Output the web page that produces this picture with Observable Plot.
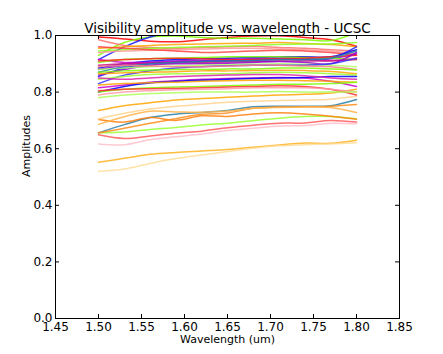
<!DOCTYPE html>
<html>
<head>
<meta charset="utf-8">
<script src="https://cdn.jsdelivr.net/npm/d3@7"></script>
<script src="https://cdn.jsdelivr.net/npm/@observablehq/plot@0.6"></script>
<style>
  html, body { margin: 0; padding: 0; background: #fff; }
  #chart { width: 443px; height: 354px; }
</style>
</head>
<body>
<div id="chart"></div>
<script>
const titleText = "Visibility amplitude vs. wavelength - UCSC";
const xLabel = "Wavelength (um)";
const yLabel = "Amplitudes";
const xTicks = [1.45, 1.50, 1.55, 1.60, 1.65, 1.70, 1.75, 1.80, 1.85];
const yTicks = [0.0, 0.2, 0.4, 0.6, 0.8, 1.0];
const wavelengths = [1.50, 1.53, 1.56, 1.59, 1.62, 1.65, 1.68, 1.71, 1.74, 1.77, 1.80];

const lineColors = [
  "#ffb020", "#ffdd99", "#ffc0cb", "#ff5a5a", "#99ff33", "#2a80a8", "#ff7f0e", "#ff8c1a",
  "#ffb347", "#ffa500", "#ffd28c",
  "#ff0000", "#7cfc00", "#1a1aff", "#ff7070", "#ffa500", "#88ff22", "#ff9999", "#ff4040",
  "#0000ff", "#8a00e0", "#d000d0", "#2020ff", "#7cfc00", "#ff2020", "#cc1080", "#9900cc",
  "#aaff66", "#2a80a8", "#3030ff", "#ff8080", "#7cfc00", "#ffa500", "#99ff33", "#cc00cc",
  "#0000ff", "#ffa500", "#7cfc00", "#ff3030", "#ff99aa", "#dd22aa", "#aaff55"
];

const lineValues = [
  [0.552, 0.566, 0.580, 0.587, 0.592, 0.597, 0.605, 0.613, 0.620, 0.619, 0.630],
  [0.520, 0.528, 0.548, 0.565, 0.578, 0.590, 0.602, 0.610, 0.614, 0.617, 0.621],
  [0.617, 0.614, 0.632, 0.642, 0.652, 0.664, 0.672, 0.680, 0.682, 0.690, 0.688],
  [0.649, 0.636, 0.645, 0.655, 0.662, 0.674, 0.683, 0.690, 0.691, 0.700, 0.694],
  [0.656, 0.659, 0.668, 0.675, 0.684, 0.690, 0.699, 0.708, 0.714, 0.714, 0.706],
  [0.656, 0.685, 0.710, 0.722, 0.728, 0.735, 0.748, 0.750, 0.750, 0.752, 0.774],
  [0.703, 0.694, 0.710, 0.700, 0.716, 0.714, 0.723, 0.727, 0.723, 0.715, 0.704],
  [0.656, 0.672, 0.690, 0.706, 0.722, 0.726, 0.743, 0.747, 0.748, 0.750, 0.756],
  [0.686, 0.713, 0.732, 0.730, 0.729, 0.733, 0.743, 0.746, 0.747, 0.746, 0.728],
  [0.735, 0.752, 0.762, 0.772, 0.777, 0.782, 0.786, 0.790, 0.792, 0.797, 0.810],
  [0.705, 0.725, 0.740, 0.750, 0.757, 0.764, 0.768, 0.770, 0.772, 0.775, 0.785],
  [0.995, 0.988, 0.980, 0.978, 0.985, 0.993, 0.998, 0.999, 0.993, 0.985, 0.962],
  [0.930, 0.975, 0.995, 0.998, 0.993, 0.990, 0.990, 0.988, 0.985, 0.982, 1.010],
  [0.915, 0.960, 0.995, 1.010, 1.020, 1.020, 1.020, 1.020, 1.020, 1.020, 1.020],
  [0.985, 0.965, 0.958, 0.955, 0.958, 0.960, 0.962, 0.958, 0.955, 0.950, 0.945],
  [0.955, 0.960, 0.965, 0.968, 0.970, 0.972, 0.973, 0.975, 0.972, 0.968, 0.960],
  [0.945, 0.950, 0.955, 0.958, 0.960, 0.962, 0.965, 0.968, 0.970, 0.970, 0.975],
  [0.940, 0.945, 0.948, 0.950, 0.952, 0.955, 0.955, 0.952, 0.950, 0.945, 0.935],
  [0.960, 0.955, 0.950, 0.945, 0.940, 0.942, 0.945, 0.948, 0.945, 0.940, 0.930],
  [0.885, 0.900, 0.910, 0.915, 0.918, 0.920, 0.922, 0.925, 0.925, 0.925, 0.950],
  [0.880, 0.895, 0.905, 0.910, 0.912, 0.915, 0.918, 0.920, 0.920, 0.918, 0.935],
  [0.915, 0.905, 0.905, 0.908, 0.910, 0.912, 0.915, 0.918, 0.915, 0.912, 0.920],
  [0.855, 0.885, 0.900, 0.905, 0.908, 0.910, 0.912, 0.915, 0.915, 0.920, 0.960],
  [0.905, 0.915, 0.918, 0.920, 0.922, 0.925, 0.925, 0.925, 0.922, 0.920, 0.915],
  [0.910, 0.915, 0.918, 0.920, 0.918, 0.915, 0.915, 0.918, 0.920, 0.925, 0.930],
  [0.895, 0.900, 0.902, 0.905, 0.905, 0.906, 0.908, 0.910, 0.910, 0.910, 0.915],
  [0.860, 0.880, 0.895, 0.900, 0.900, 0.902, 0.905, 0.908, 0.905, 0.900, 0.940],
  [0.880, 0.885, 0.890, 0.892, 0.895, 0.897, 0.898, 0.900, 0.898, 0.895, 0.890],
  [0.870, 0.890, 0.900, 0.905, 0.908, 0.910, 0.912, 0.915, 0.915, 0.920, 0.945],
  [0.830, 0.860, 0.875, 0.885, 0.890, 0.893, 0.895, 0.895, 0.895, 0.900, 0.920],
  [0.890, 0.895, 0.892, 0.890, 0.890, 0.892, 0.895, 0.895, 0.892, 0.890, 0.880],
  [0.870, 0.875, 0.878, 0.880, 0.880, 0.882, 0.882, 0.885, 0.885, 0.882, 0.878],
  [0.865, 0.868, 0.870, 0.872, 0.875, 0.875, 0.876, 0.877, 0.876, 0.873, 0.865],
  [0.845, 0.855, 0.862, 0.865, 0.865, 0.865, 0.868, 0.870, 0.868, 0.865, 0.860],
  [0.815, 0.825, 0.835, 0.840, 0.845, 0.848, 0.850, 0.852, 0.850, 0.838, 0.820],
  [0.800, 0.820, 0.832, 0.838, 0.842, 0.845, 0.848, 0.850, 0.852, 0.855, 0.855],
  [0.825, 0.830, 0.833, 0.835, 0.838, 0.840, 0.842, 0.842, 0.840, 0.838, 0.835],
  [0.800, 0.810, 0.815, 0.818, 0.820, 0.822, 0.825, 0.828, 0.828, 0.830, 0.835],
  [0.805, 0.810, 0.812, 0.813, 0.815, 0.818, 0.820, 0.822, 0.820, 0.810, 0.790],
  [0.790, 0.800, 0.805, 0.808, 0.810, 0.812, 0.815, 0.815, 0.815, 0.810, 0.800],
  [0.850, 0.845, 0.850, 0.855, 0.858, 0.860, 0.862, 0.862, 0.858, 0.850, 0.845],
  [0.780, 0.790, 0.795, 0.798, 0.800, 0.800, 0.800, 0.802, 0.800, 0.800, 0.800]
];

const rows = [];
lineValues.forEach((vals, i) => {
  vals.forEach((v, j) => rows.push({series: i, color: lineColors[i], wl: wavelengths[j], amp: v}));
});

const W = 443, H = 354;
const mL = 55, mR = 44, mT = 35, mB = 36;
const plotW = W - mL - mR, plotH = H - mT - mB;
const tickLen = 4;

const chart = Plot.plot({
  width: W,
  height: H,
  marginLeft: mL,
  marginRight: mR,
  marginTop: mT,
  marginBottom: mB,
  style: {fontFamily: "'DejaVu Sans', sans-serif", color: "#000", background: "#fff"},
  x: {domain: [1.45, 1.85]},
  y: {domain: [0, 1]},
  color: {type: "identity"},
  marks: [
    Plot.line(rows, {x: "wl", y: "amp", z: "series", stroke: "color", strokeWidth: 1.5, strokeOpacity: 0.85, curve: "catmull-rom", clip: true}),
    Plot.frame({stroke: "#000", strokeWidth: 1}),
    Plot.ruleX(xTicks, {x: d => d, insetTop: plotH - tickLen, stroke: "#000"}),
    Plot.ruleX(xTicks, {x: d => d, insetBottom: plotH - tickLen, stroke: "#000"}),
    Plot.ruleY(yTicks, {y: d => d, insetRight: plotW - tickLen, stroke: "#000"}),
    Plot.ruleY(yTicks, {y: d => d, insetLeft: plotW - tickLen, stroke: "#000"}),
    Plot.axisX(xTicks, {tickSize: 0, tickPadding: 4, tickFormat: d3.format(".2f"), fontSize: 12, label: null, fill: "#000"}),
    Plot.axisY(yTicks, {tickSize: 0, tickPadding: 3, tickFormat: d3.format(".1f"), fontSize: 12, label: null, fill: "#000"}),
    Plot.text([xLabel], {text: d => d, frameAnchor: "bottom", dy: 24, fontSize: 11, fill: "#000"}),
    Plot.text([yLabel], {text: d => d, frameAnchor: "left", dx: -29, rotate: -90, fontSize: 11, fill: "#000"}),
    Plot.text([titleText], {text: d => d, frameAnchor: "top", lineAnchor: "bottom", dy: -3, fontSize: 13.5, fill: "#000"})
  ]
});
document.getElementById("chart").appendChild(chart);
</script>
</body>
</html>
